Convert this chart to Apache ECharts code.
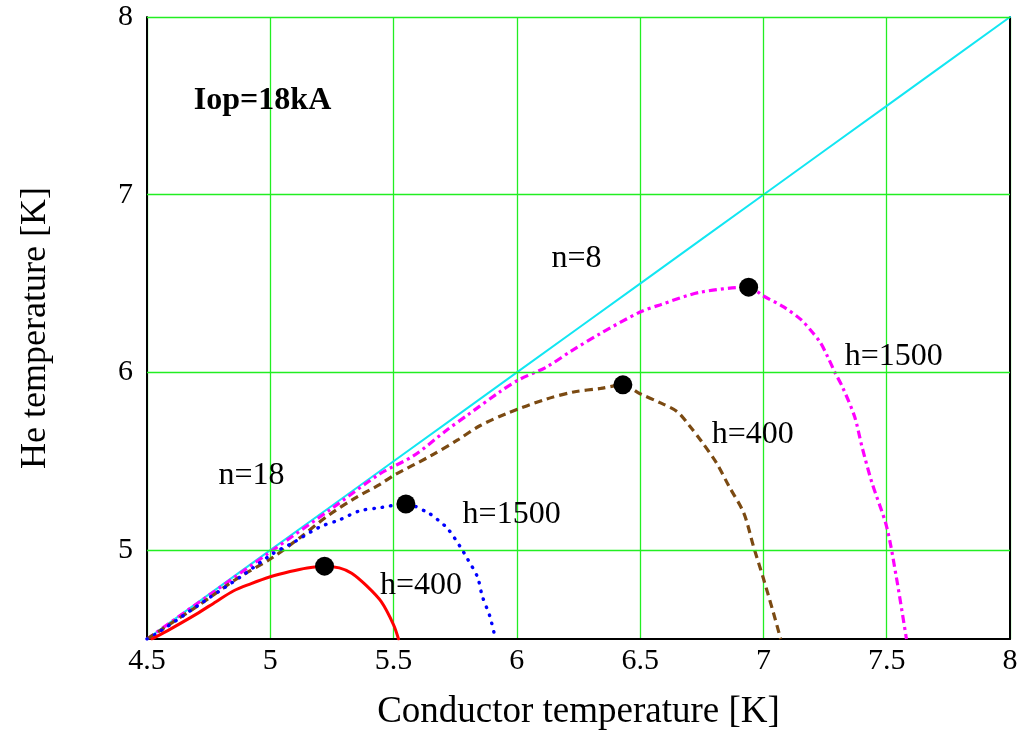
<!DOCTYPE html>
<html>
<head>
<meta charset="utf-8">
<script src="https://cdn.jsdelivr.net/npm/echarts@6/dist/echarts.min.js"></script>
<style>html,body{margin:0;padding:0;background:#fff}#c{width:1028px;height:736px}</style>
</head>
<body>
<div id="c"></div>
<script>
// ---- data ----
var xTickValues = [4.5, 5, 5.5, 6, 6.5, 7, 7.5, 8];
var yTickValues = [5, 6, 7, 8];
var cyanLine = [[4.5,4.5],[5.0,5.0],[5.5,5.5],[6.0,6.0],[6.5,6.5],[7.0,7.0],[7.5,7.5],[8.0,8.0]];
var magentaN8h1500 = [[4.5,4.5],[4.75,4.745],[5.0,4.99],[5.25,5.235],[5.445,5.43],[5.58,5.53],[5.72,5.68],[5.80,5.76],[5.93,5.89],[6.01,5.96],[6.12,6.03],[6.22,6.12],[6.34,6.22],[6.50,6.34],[6.58,6.38],[6.74,6.45],[6.94,6.48],[7.00,6.43],[7.08,6.37],[7.15,6.30],[7.19,6.24],[7.23,6.17],[7.26,6.09],[7.29,6.0],[7.32,5.92],[7.37,5.75],[7.40,5.58],[7.44,5.38],[7.50,5.13],[7.54,4.84],[7.58,4.5]];
var brownN8h400 = [[4.5,4.5],[4.55,4.545],[4.71,4.69],[4.865,4.84],[5.0,4.95],[5.12,5.07],[5.23,5.19],[5.34,5.29],[5.445,5.37],[5.50,5.42],[5.65,5.53],[5.76,5.62],[5.85,5.70],[5.96,5.77],[6.12,5.85],[6.23,5.89],[6.34,5.91],[6.43,5.93],[6.50,5.88],[6.58,5.83],[6.65,5.78],[6.70,5.70],[6.75,5.61],[6.81,5.49],[6.86,5.36],[6.92,5.21],[6.96,5.02],[7.00,4.84],[7.04,4.65],[7.07,4.5]];
var blueN18h1500 = [[4.5,4.5],[4.55,4.54],[4.74,4.72],[4.88,4.85],[5.01,4.98],[5.09,5.04],[5.20,5.13],[5.28,5.17],[5.36,5.22],[5.45,5.24],[5.55,5.26],[5.64,5.21],[5.68,5.17],[5.72,5.12],[5.77,5.02],[5.80,4.95],[5.84,4.85],[5.86,4.74],[5.89,4.63],[5.91,4.52]];
var redN18h400 = [[4.52,4.5],[4.6,4.56],[4.7,4.64],[4.78,4.71],[4.85,4.77],[4.92,4.81],[5.0,4.85],[5.08,4.88],[5.15,4.90],[5.22,4.91],[5.28,4.90],[5.33,4.87],[5.39,4.80],[5.45,4.71],[5.50,4.58],[5.52,4.5]];
var peakPoints = [[5.22,4.91],[5.55,5.26],[6.43,5.93],[6.94,6.48]];
var annotations = [
  {text:'Iop=18kA', x:4.69, y:7.53, bold:true},
  {text:'n=8', x:6.14, y:6.64},
  {text:'h=1500', x:7.33, y:6.09},
  {text:'h=400', x:6.79, y:5.65},
  {text:'n=18', x:4.79, y:5.42},
  {text:'h=1500', x:5.78, y:5.20},
  {text:'h=400', x:5.445, y:4.80}
];

var FONT = "'Liberation Serif','Times New Roman',serif";
var GRID_GREEN = '#22ee22';

var chart = echarts.init(document.getElementById('c'), null, {renderer:'canvas'});
function lineSeries(data, color, width, dash, z, cap){
  return {type:'line', data:data, showSymbol:false, symbol:'none', smooth:0.3, z:z||3,
    lineStyle:{color:color, width:width, type:dash, cap:cap||'round', opacity:1}, silent:true, animation:false};
}
var option = {
  animation:false,
  backgroundColor:'#fff',
  grid:{left:147, top:17, right:18, bottom:96, containLabel:false},
  xAxis:{type:'value', min:4.5, max:8, interval:0.5,
    name:'Conductor temperature [K]', nameLocation:'middle', nameGap:55, nameMoveOverlap:false,
    nameTextStyle:{fontFamily:FONT, fontSize:37, color:'#000'},
    axisLine:{show:true, onZero:false, lineStyle:{color:'#000', width:2}},
    axisTick:{show:false},
    axisLabel:{fontFamily:FONT, fontSize:30, color:'#000', margin:7,
      formatter:function(v){return xTickValues.indexOf(v)>=0 ? String(v) : '';}},
    splitLine:{show:true, lineStyle:{color:GRID_GREEN, width:1.3}}},
  yAxis:[{type:'value', min:4.5, max:8, interval:0.5,
    name:'He temperature [K]', nameLocation:'middle', nameGap:93, nameMoveOverlap:false,
    nameTextStyle:{fontFamily:FONT, fontSize:36, color:'#000'},
    axisLine:{show:true, onZero:false, lineStyle:{color:'#000', width:2}},
    axisTick:{show:false},
    axisLabel:{fontFamily:FONT, fontSize:30, color:'#000', margin:14,
      formatter:function(v){return yTickValues.indexOf(v)>=0 ? String(v) : '';}},
    splitLine:{show:false}},
   {type:'value', min:4.5, max:8, position:'right',
    axisLine:{show:true, onZero:false, lineStyle:{color:'#000', width:2}},
    axisTick:{show:false}, axisLabel:{show:false}, splitLine:{show:false}}],
  series:[
    {type:'line', data:[], z:1, silent:true,
      markLine:{silent:true, symbol:'none', label:{show:false}, animation:false,
        lineStyle:{color:GRID_GREEN, width:1.3, type:'solid', opacity:1},
        emphasis:{disabled:true},
        data:yTickValues.map(function(v){return {yAxis:v};})}},
    lineSeries(cyanLine, '#12e6f2', 2, 'solid', 2),
    lineSeries(magentaN8h1500, '#ff00ff', 3.2, [8,4,3,4], 3, 'butt'),
    lineSeries(brownN8h400, '#7b4a12', 3.2, [8,5], 4, 'butt'),
    lineSeries(blueN18h1500, '#0000ff', 3.4, [0.5,8], 5, 'round'),
    lineSeries(redN18h400, '#ff0000', 3, 'solid', 6),
    {type:'scatter', data:peakPoints, symbol:'circle', symbolSize:19, z:10, silent:true,
      itemStyle:{color:'#000', opacity:1}},
    {type:'scatter', symbolSize:0, z:11, silent:true, itemStyle:{opacity:1},
      data:annotations.map(function(a){return {value:[a.x,a.y], name:a.text,
        label:{fontWeight:a.bold?'bold':'normal', color:'#000'}};}),
      label:{show:true, position:'right', distance:0, formatter:'{b}', opacity:1,
        fontFamily:FONT, fontSize:32, color:'#000'}}
  ]
};
chart.setOption(option);
</script>
</body>
</html>
